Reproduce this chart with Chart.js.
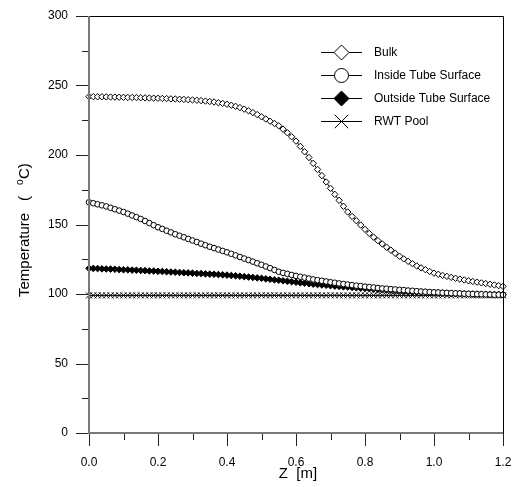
<!DOCTYPE html>
<html>
<head>
<meta charset="utf-8">
<script src="https://cdn.jsdelivr.net/npm/chart.js@4/dist/chart.umd.min.js"></script>
<style>
html,body{margin:0;padding:0;background:#fff;}
canvas{display:block;}
</style>
</head>
<body>
<canvas id="c" width="518" height="487" style="width:518px;height:487px"></canvas>
<script>
// ---- Data ----
const zValues = [0,0.0125,0.025,0.0375,0.05,0.0625,0.075,0.0875,0.1,0.1125,0.125,0.1375,0.15,0.1625,0.175,0.1875,0.2,0.2125,0.225,0.2375,0.25,0.2625,0.275,0.2875,0.3,0.3125,0.325,0.3375,0.35,0.3625,0.375,0.3875,0.4,0.4125,0.425,0.4375,0.45,0.4625,0.475,0.4875,0.5,0.5125,0.525,0.5375,0.55,0.5625,0.575,0.5875,0.6,0.6125,0.625,0.6375,0.65,0.6625,0.675,0.6875,0.7,0.7125,0.725,0.7375,0.75,0.7625,0.775,0.7875,0.8,0.8125,0.825,0.8375,0.85,0.8625,0.875,0.8875,0.9,0.9125,0.925,0.9375,0.95,0.9625,0.975,0.9875,1,1.0125,1.025,1.0375,1.05,1.0625,1.075,1.0875,1.1,1.1125,1.125,1.1375,1.15,1.1625,1.175,1.1875,1.2];

const bulk = [242.0,242.0,241.9,241.9,241.8,241.7,241.7,241.6,241.5,241.4,241.4,241.3,241.2,241.1,241.0,240.9,240.8,240.7,240.6,240.4,240.3,240.1,240.0,239.8,239.6,239.4,239.1,238.8,238.5,238.1,237.6,237.1,236.5,235.8,235.0,234.1,233.0,231.8,230.5,229.1,227.5,225.9,224.3,222.7,221.0,218.6,216.0,213.1,210.0,206.2,202.3,198.2,194.0,189.6,185.2,180.6,176.0,171.7,167.4,163.1,159.0,155.8,152.7,149.6,146.5,143.6,140.9,138.4,136.0,133.7,131.5,129.3,127.2,125.3,123.5,121.8,120.2,118.8,117.5,116.2,115.0,114.2,113.4,112.7,112.0,111.3,110.7,110.1,109.5,109.0,108.5,108.0,107.5,107.0,106.5,106.0,105.5];

const insideSurface = [166.0,165.3,164.5,163.8,163.0,162.0,161.0,160.0,159.0,157.8,156.5,155.3,154.0,152.5,151.0,149.5,148.0,146.8,145.5,144.3,143.0,141.9,140.8,139.6,138.5,137.4,136.2,135.1,134.0,133.0,132.0,131.0,130.0,128.9,127.8,126.6,125.5,124.4,123.3,122.1,121.0,119.8,118.6,117.3,116.0,115.2,114.5,113.7,113.0,112.4,111.8,111.1,110.5,110.0,109.5,109.0,108.5,108.1,107.6,107.2,106.8,106.4,106.0,105.7,105.3,105.0,104.7,104.3,104.0,103.8,103.5,103.3,103.0,102.8,102.5,102.3,102.0,101.8,101.6,101.4,101.2,101.1,100.9,100.8,100.6,100.5,100.4,100.2,100.1,100.0,99.9,99.8,99.7,99.6,99.5,99.5,99.4];

const outsideSurface = [118.5,118.4,118.3,118.1,118.0,117.9,117.8,117.6,117.5,117.4,117.2,117.1,116.9,116.8,116.6,116.5,116.3,116.2,116.0,115.8,115.7,115.5,115.3,115.2,115.0,114.8,114.7,114.5,114.3,114.2,114.0,113.8,113.6,113.3,113.1,112.8,112.5,112.2,111.9,111.6,111.3,110.9,110.6,110.2,109.9,109.5,109.2,108.8,108.5,108.1,107.8,107.4,107.1,106.8,106.5,106.3,106.0,105.7,105.5,105.2,105.0,104.7,104.5,104.2,104.0,103.8,103.5,103.3,103.1,102.9,102.7,102.5,102.3,102.1,101.9,101.7,101.6,101.4,101.3,101.1,101.0,100.8,100.7,100.5,100.4,100.3,100.2,100.1,100.0,99.9,99.9,99.8,99.8,99.7,99.6,99.6,99.5];

const rwtPool = [99,99,99,99,99,99,99,99,99,99,99,99,99,99,99,99,99,99,99,99,99,99,99,99,99,99,99,99,99,99,99,99,99,99,99,99,99,99,99,99,99,99,99,99,99,99,99,99,99,99,99,99,99,99,99,99,99,99,99,99,99,99,99,99,99,99,99,99,99,99,99,99,99,99,99,99,99,99,99,99,99,99,99,99,99,99,99,99,99,99,99,99,99,99,99,99,99];

const seriesNames = ["Bulk", "Inside Tube Surface", "Outside Tube Surface", "RWT Pool"];
const xTickLabels = ["0.0","0.2","0.4","0.6","0.8","1.0","1.2"];
const yTickLabels = ["0","50","100","150","200","250","300"];

// ---- Chart ----
const FONT = "'Liberation Sans', Arial, Helvetica, sans-serif";
const toXY = arr => arr.map((v, i) => ({x: zValues[i], y: v}));

const markerDefs = [
  {style: 'rectRot', radius: 3.2, fill: '#fff', legendR: 7.5},
  {style: 'circle', radius: 2.8, fill: '#fff', legendR: 7},
  {style: 'rectRot', radius: 3.3, fill: '#000', legendR: 7.5},
  {style: 'crossRot', radius: 4.2, fill: '#000', legendR: 9}
];
const allSeries = [bulk, insideSurface, outsideSurface, rwtPool];

const datasets = allSeries.map((s, i) => ({
  label: seriesNames[i],
  data: toXY(s),
  borderColor: '#000',
  borderWidth: 1,
  pointStyle: markerDefs[i].style,
  pointRadius: markerDefs[i].radius,
  pointBackgroundColor: markerDefs[i].fill,
  pointBorderColor: '#000',
  pointBorderWidth: 1,
  tension: 0,
  clip: false
}));

function drawMarker(ctx, kind, cx, cy, r) {
  ctx.save();
  ctx.strokeStyle = '#000';
  ctx.lineWidth = 1;
  ctx.beginPath();
  if (kind === 0 || kind === 2) {
    ctx.moveTo(cx, cy - r); ctx.lineTo(cx + r, cy); ctx.lineTo(cx, cy + r); ctx.lineTo(cx - r, cy); ctx.closePath();
    ctx.fillStyle = kind === 0 ? '#fff' : '#000';
    ctx.fill(); ctx.stroke();
  } else if (kind === 1) {
    ctx.arc(cx, cy, r, 0, Math.PI * 2);
    ctx.fillStyle = '#fff'; ctx.fill(); ctx.stroke();
  } else {
    const d = r * 0.75;
    ctx.moveTo(cx - d, cy - d); ctx.lineTo(cx + d, cy + d);
    ctx.moveTo(cx + d, cy - d); ctx.lineTo(cx - d, cy + d);
    ctx.stroke();
  }
  ctx.restore();
}

const framePlugin = {
  id: 'frame',
  afterDraw(chart) {
    const ctx = chart.ctx;
    const {left, right, top, bottom} = chart.chartArea;
    const xs = chart.scales.x, ys = chart.scales.y;
    ctx.save();
    // ticks
    ctx.strokeStyle = '#222';
    ctx.lineWidth = 1;
    for (let v = 0; v <= 300; v += 25) {
      const py = Math.round(ys.getPixelForValue(v)) + 0.5;
      const len = (v % 50 === 0) ? 13 : 7;
      ctx.beginPath(); ctx.moveTo(left - len, py); ctx.lineTo(left, py); ctx.stroke();
    }
    for (let k = 0; k <= 12; k++) {
      const px = Math.round(xs.getPixelForValue(k / 10)) + 0.5;
      const len = (k % 2 === 0) ? 13 : 7;
      ctx.beginPath(); ctx.moveTo(px, bottom); ctx.lineTo(px, bottom + len); ctx.stroke();
    }
    // frame top and right
    ctx.strokeStyle = '#000';
    ctx.beginPath();
    ctx.moveTo(left, Math.round(top) + 0.5); ctx.lineTo(Math.round(right) + 0.5, Math.round(top) + 0.5);
    ctx.lineTo(Math.round(right) + 0.5, bottom);
    ctx.stroke();
    // left and bottom axes
    ctx.strokeStyle = '#7a7a7a';
    ctx.lineWidth = 2;
    ctx.beginPath();
    ctx.moveTo(left, top); ctx.lineTo(left, bottom); ctx.lineTo(right, bottom);
    ctx.stroke();

    // axis titles
    ctx.fillStyle = '#000';
    ctx.textBaseline = 'middle';
    ctx.textAlign = 'center';
    ctx.font = '15px ' + FONT;
    ctx.fillText('Z  [m]', 298, 474);

    ctx.save();
    ctx.translate(25, 297);
    ctx.rotate(-Math.PI / 2);
    ctx.textAlign = 'left';
    ctx.font = '15px ' + FONT;
    ctx.fillText('Temperature', 0, 0);
    ctx.fillText('(', 96, 0);
    ctx.font = '10px ' + FONT;
    ctx.fillText('o', 112, -5);
    ctx.font = '15px ' + FONT;
    ctx.fillText('C)', 118, 0);
    ctx.restore();

    // legend
    const legY = [52, 75, 98, 121];
    ctx.font = '12px ' + FONT;
    ctx.textAlign = 'left';
    ctx.textBaseline = 'middle';
    seriesNames.forEach((name, i) => {
      const y = legY[i] + 0.5;
      ctx.strokeStyle = '#000'; ctx.lineWidth = 1;
      ctx.beginPath(); ctx.moveTo(321, y); ctx.lineTo(362, y); ctx.stroke();
      drawMarker(ctx, i, 341.5, y, markerDefs[i].legendR);
      ctx.fillStyle = '#000';
      ctx.fillText(name, 374, legY[i] + 1);
    });
    ctx.restore();
  }
};

const zeroPad = s => { s.paddingTop = 0; s.paddingBottom = 0; s.paddingLeft = 0; s.paddingRight = 0; };

new Chart(document.getElementById('c'), {
  type: 'line',
  data: {datasets},
  options: {
    responsive: false,
    animation: false,
    devicePixelRatio: 1,
    layout: {padding: {left: 0, right: 15, top: 16, bottom: 0}},
    plugins: {legend: {display: false}, tooltip: {enabled: false}},
    scales: {
      x: {
        type: 'linear', min: 0, max: 1.2,
        afterBuildTicks: s => { s.ticks = xTickLabels.map(t => ({value: parseFloat(t)})); },
        ticks: {
          callback: (v) => xTickLabels.find(t => Math.abs(parseFloat(t) - v) < 1e-6) || '',
          font: {size: 12, family: FONT}, color: '#000', padding: 22,
          maxRotation: 0, autoSkip: false
        },
        grid: {display: false, drawTicks: false},
        border: {display: false},
        afterFit: s => { s.height = 54; zeroPad(s); }
      },
      y: {
        type: 'linear', min: 0, max: 300,
        afterBuildTicks: s => { s.ticks = yTickLabels.map(t => ({value: parseFloat(t)})); },
        ticks: {
          callback: (v) => String(v),
          font: {size: 12, family: FONT}, color: '#000', padding: 21
        },
        grid: {display: false, drawTicks: false},
        border: {display: false},
        afterFit: s => { s.width = 89; zeroPad(s); }
      }
    }
  },
  plugins: [framePlugin]
});
</script>
</body>
</html>
